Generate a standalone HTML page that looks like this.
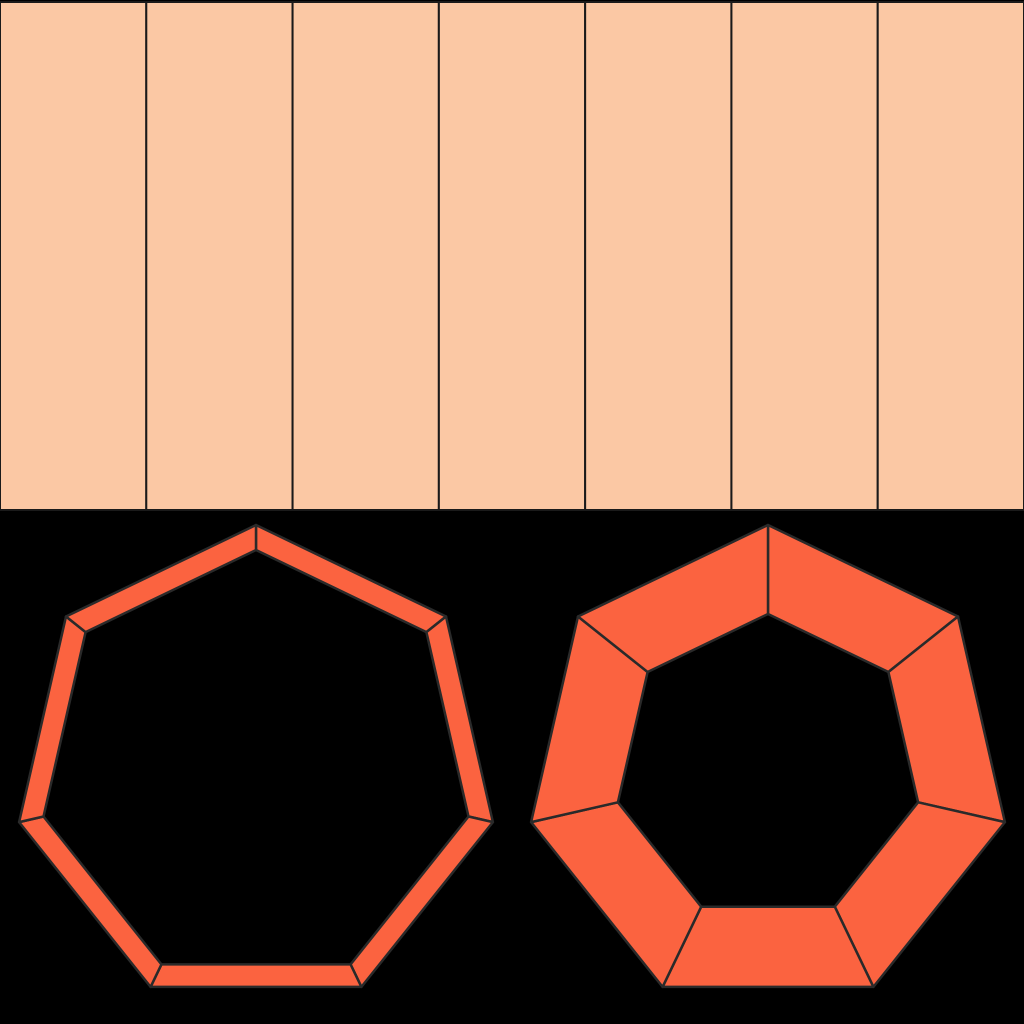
<!DOCTYPE html>
<html><head><meta charset="utf-8">
<style>
html,body{margin:0;padding:0;background:#000;}
svg{display:block;}
</style></head>
<body>
<svg id="chart" width="1024" height="1024" viewBox="0 0 1024 1024" xmlns="http://www.w3.org/2000/svg">
<rect x="0" y="0" width="1024" height="1024" fill="#000"/>
<g id="panels"></g>
<g id="rings"></g>
</svg>
<script>
const panelCategories = ["p1","p2","p3","p4","p5","p6","p7"];
const ringCenters = [256, 768];
const ringOuter = [243, 243];
const ringInner = [218, 154];
const sides = 7;

const NS = "http://www.w3.org/2000/svg";
const W = 1024, panelTop = 2, panelBottom = 510;
const pg = document.getElementById('panels');
const pw = W / panelCategories.length;
panelCategories.forEach((c, i) => {
  const r = document.createElementNS(NS, 'rect');
  r.setAttribute('x', i * pw);
  r.setAttribute('y', panelTop);
  r.setAttribute('width', pw);
  r.setAttribute('height', panelBottom - panelTop);
  r.setAttribute('fill', '#FBC8A4');
  r.setAttribute('stroke', '#1a1a1a');
  r.setAttribute('stroke-width', '2');
  
  
  pg.appendChild(r);
});

const rg = document.getElementById('rings');
const cy = 768;
function vert(cx, R, k) {
  const a = -Math.PI / 2 + k * 2 * Math.PI / sides;
  return [cx + R * Math.cos(a), cy + R * Math.sin(a)];
}
ringCenters.forEach((cx, ri) => {
  const g = document.createElementNS(NS, 'g');
  
  
  for (let k = 0; k < sides; k++) {
    const o1 = vert(cx, ringOuter[ri], k), o2 = vert(cx, ringOuter[ri], k + 1);
    const i1 = vert(cx, ringInner[ri], k), i2 = vert(cx, ringInner[ri], k + 1);
    const p = document.createElementNS(NS, 'polygon');
    p.setAttribute('points', [o1, o2, i2, i1].map(v => v[0].toFixed(1) + ',' + v[1].toFixed(1)).join(' '));
    p.setAttribute('fill', '#FB6340');
    p.setAttribute('stroke', '#2a2a2a');
    p.setAttribute('stroke-width', '2.5');
    p.setAttribute('stroke-linejoin', 'round');
    
    
    g.appendChild(p);
  }
  rg.appendChild(g);
});
</script>
</body></html>
